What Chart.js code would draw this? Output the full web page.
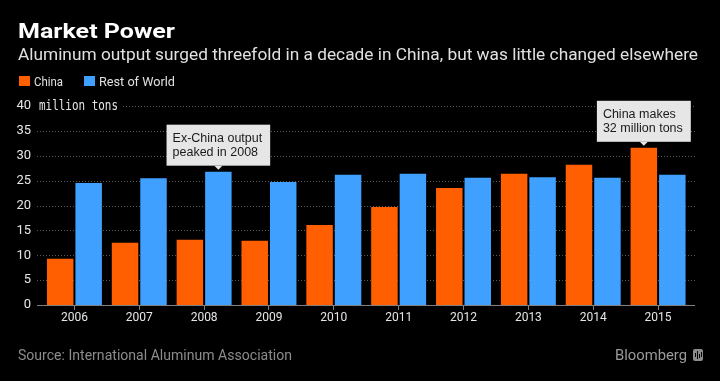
<!DOCTYPE html>
<html>
<head>
<meta charset="utf-8">
<script src="https://cdn.jsdelivr.net/npm/chart.js@4/dist/chart.umd.min.js"></script>
<style>
  html, body { margin: 0; padding: 0; background: #000; }
  #wrap { width: 720px; height: 381px; }
</style>
</head>
<body>
<div id="wrap"><canvas id="aluminumChart" width="720" height="381"></canvas></div>
<script>
// Aluminum output, million tons
const years = ['2006', '2007', '2008', '2009', '2010', '2011', '2012', '2013', '2014', '2015'];
const china = [9.3, 12.5, 13.1, 12.9, 16.1, 19.7, 23.5, 26.4, 28.2, 31.6];
const restOfWorld = [24.5, 25.5, 26.8, 24.7, 26.2, 26.4, 25.6, 25.7, 25.6, 26.2];
const seriesNames = ['China', 'Rest of World'];
const yMax = 40;
const yStep = 5;

// callout boxes: which series / year they point at, and their text
const noteSeries = [1, 0];
const noteYears = ['2008', '2015'];
const noteLines = [['Ex-China output', 'peaked in 2008'], ['China makes', '32 million tons']];

const ORANGE = '#ff5f00';
const BLUE = '#40a0ff';
const BASE_FONT = "Roboto, 'Liberation Sans', sans-serif";
const MONO_FONT = "'DejaVu Sans Mono', monospace";

// draw text squeezed/stretched to a given width (the Bloomberg face is condensed)
function fitText(ctx, text, x, y, width, font, color, baseline) {
    ctx.save();
    ctx.font = font;
    const w = ctx.measureText(text).width;
    ctx.translate(x, y);
    ctx.scale(width / w, 1);
    ctx.fillStyle = color;
    ctx.textAlign = 'left';
    ctx.textBaseline = baseline || 'alphabetic';
    ctx.fillText(text, 0, 0);
    ctx.restore();
}

const UNIT_X = 39;
const UNIT_W = 79;

const bloombergLook = {
    id: 'bloombergLook',
    beforeDraw(chart) {
        const ctx = chart.ctx;
        ctx.save();
        ctx.fillStyle = '#000';
        ctx.fillRect(0, 0, chart.width, chart.height);
        ctx.restore();
    },
    beforeDatasetsDraw(chart) {
        // dotted horizontal grid, a little wider than the bars
        const { ctx, chartArea, scales } = chart;
        const left = chartArea.left - 5;
        const right = chartArea.right + 4.5;
        ctx.save();
        ctx.strokeStyle = '#5a5a5a';
        ctx.lineWidth = 1;
        ctx.setLineDash([1, 2]);
        for (let v = yStep; v <= yMax; v += yStep) {
            const y = Math.round(scales.y.getPixelForValue(v)) + 0.5;
            // unit label sits on the top line
            const start = v === yMax ? UNIT_X + UNIT_W + 5 : left;
            ctx.beginPath();
            ctx.moveTo(start, y);
            ctx.lineTo(right, y);
            ctx.stroke();
        }
        ctx.restore();
    },
    afterDatasetsDraw(chart) {
        const { ctx, chartArea, scales } = chart;
        // baseline
        const y0 = Math.round(scales.y.getPixelForValue(0)) + 0.5;
        ctx.save();
        ctx.strokeStyle = '#808080';
        ctx.lineWidth = 1;
        ctx.beginPath();
        ctx.moveTo(chartArea.left - 5, y0);
        ctx.lineTo(chartArea.right + 4.5, y0);
        ctx.stroke();
        ctx.restore();

        // unit label next to the top tick
        const yTop = scales.y.getPixelForValue(yMax);
        fitText(ctx, 'million tons', UNIT_X, yTop + 0.5, UNIT_W, '14.5px ' + MONO_FONT, '#e6e6e6', 'middle');

        // callouts anchored on the bars
        ctx.save();
        ctx.font = "12.5px 'Liberation Sans', Arial, sans-serif";
        noteYears.forEach((yr, i) => {
            const bar = chart.getDatasetMeta(noteSeries[i]).data[years.indexOf(yr)];
            const lines = noteLines[i];
            const tw = Math.max(...lines.map(l => ctx.measureText(l).width));
            const w = tw + 14;
            const h = 41;
            const bottom = bar.y - 6;
            const left = bar.x - w / 2;
            ctx.fillStyle = '#e6e6e6';
            ctx.fillRect(left, bottom - h, w, h);
            ctx.beginPath();
            ctx.moveTo(bar.x - 4, bottom);
            ctx.lineTo(bar.x + 4, bottom);
            ctx.lineTo(bar.x, bottom + 4);
            ctx.closePath();
            ctx.fill();
            ctx.fillStyle = '#1a1a1a';
            ctx.textBaseline = 'alphabetic';
            ctx.textAlign = 'left';
            lines.forEach((l, j) => ctx.fillText(l, left + 6, bottom - h + 17 + j * 14.5));
        });
        ctx.restore();
    },
    afterDraw(chart) {
        const ctx = chart.ctx;
        // header
        fitText(ctx, 'Market Power', 18, 38, 157, 'bold 21px ' + BASE_FONT, '#ffffff');
        fitText(ctx, 'Aluminum output surged threefold in a decade in China, but was little changed elsewhere',
            18, 60, 680, '17px ' + BASE_FONT, '#e0e0e0');

        // legend
        const colors = [ORANGE, BLUE];
        const legendX = [19, 84];
        const legendW = [29, 76];
        seriesNames.forEach((name, i) => {
            ctx.fillStyle = colors[i];
            ctx.fillRect(legendX[i], 76, 11, 10);
            fitText(ctx, name, legendX[i] + 15, 86, legendW[i], '13px ' + BASE_FONT, '#e0e0e0');
        });

        // footer
        fitText(ctx, 'Source: International Aluminum Association', 18, 360, 274, '15px ' + BASE_FONT, '#8c8c8c');
        fitText(ctx, 'Bloomberg', 615, 360, 72, '15px ' + BASE_FONT, '#9a9a9a');
        ctx.save();
        ctx.fillStyle = '#8c8c8c';
        ctx.beginPath();
        ctx.roundRect(693, 349, 10, 12, 2);
        ctx.fill();
        ctx.fillStyle = '#000';
        [[695, 353, 4], [697, 351, 8], [699, 354, 4], [701, 352, 5]].forEach(([x, y, h]) => ctx.fillRect(x, y, 1, h));
        ctx.restore();
    }
};

const ctx = document.getElementById('aluminumChart').getContext('2d');
new Chart(ctx, {
    type: 'bar',
    data: {
        labels: years,
        datasets: [{
            label: seriesNames[0],
            data: china,
            backgroundColor: ORANGE,
            borderWidth: 0,
        }, {
            label: seriesNames[1],
            data: restOfWorld,
            backgroundColor: BLUE,
            borderWidth: 0,
        }]
    },
    options: {
        responsive: false,
        animation: false,
        devicePixelRatio: 1,
        categoryPercentage: 0.878,
        barPercentage: 0.93,
        layout: {
            padding: { top: 106, right: 29.5, bottom: 50, left: 0 }
        },
        plugins: {
            legend: { display: false },
            tooltip: { enabled: false },
        },
        scales: {
            x: {
                afterFit: s => { s.height = 26; },
                border: { display: false },
                grid: {
                    offset: false,
                    drawOnChartArea: false,
                    drawTicks: true,
                    tickLength: 5,
                    color: '#808080',
                },
                ticks: {
                    color: '#e6e6e6',
                    padding: 1,
                    maxRotation: 0,
                    font: { family: BASE_FONT, size: 12 }
                }
            },
            y: {
                min: 0,
                max: yMax,
                afterFit: s => { s.width = 42; },
                border: { display: false },
                grid: { display: false, drawTicks: false },
                ticks: {
                    stepSize: yStep,
                    color: '#e6e6e6',
                    padding: 11,
                    font: { family: BASE_FONT, size: 13 }
                }
            }
        }
    },
    plugins: [bloombergLook]
});
</script>
</body>
</html>
